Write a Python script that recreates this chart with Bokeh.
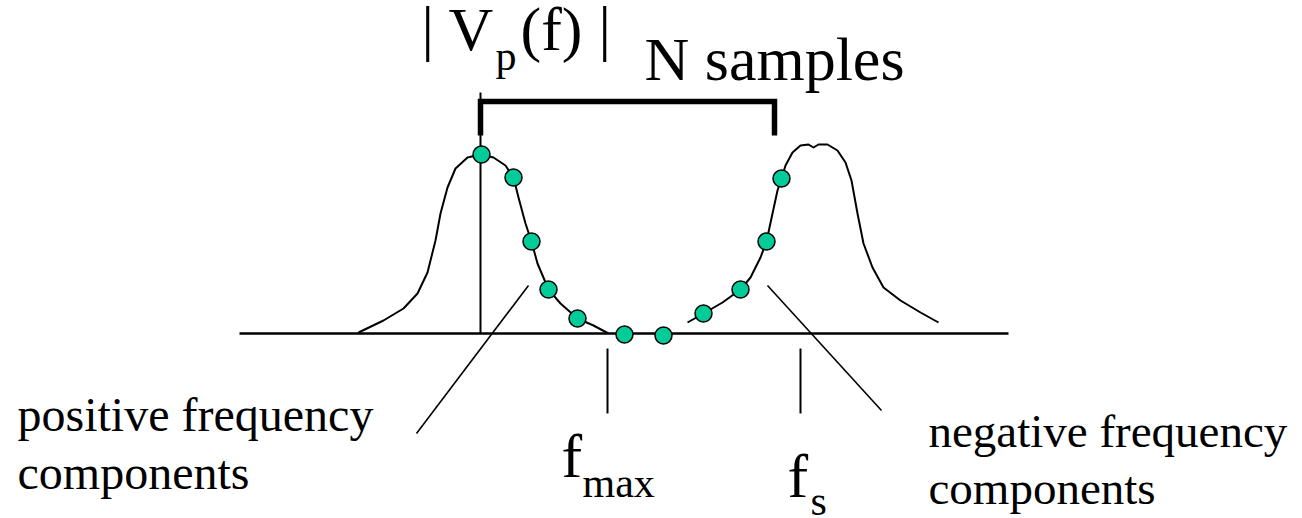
from bokeh.plotting import figure
from bokeh.models import Range1d
from bokeh.core.properties import value
from bokeh.embed import file_html
from bokeh.resources import INLINE

# ---- data (diagram coordinates, pixel-like units, y grows downward) ----
left_curve_x = [358, 383, 403, 417, 427, 435, 440, 447, 455, 467, 480, 493, 505, 513, 518, 525, 531, 537, 548, 560, 577, 593, 608]
left_curve_y = [332, 320, 308, 293, 272, 240, 213, 187, 168, 157, 154, 157, 165, 177, 197, 223, 241, 263, 289, 303, 318, 325, 333]

right_curve_x = [687, 703, 722, 740, 750, 760, 766, 772, 777, 781, 785, 792, 800, 808, 813, 818, 827, 837, 845, 851, 857, 863, 872, 883, 900, 920, 938]
right_curve_y = [322, 313, 302, 289, 277, 257, 241, 213, 190, 178, 165, 152, 145, 144, 147, 144, 144, 150, 162, 180, 213, 243, 267, 287, 300, 312, 322]

sample_x = [481, 513, 531, 548, 577, 624, 663, 703, 740, 766, 781]
sample_y = [154, 177, 241, 289, 318, 334, 335, 313, 289, 241, 178]

axis_x = [239, 1008]
axis_y = [333, 333]

dc_line_x = [480, 480]
dc_line_y = [92, 333]

bracket_x = [480, 480, 774, 774]
bracket_y = [135, 101, 101, 135]

tick_x = [[607, 607], [800, 800]]
tick_y = [[348, 413], [348, 413]]

leader_x = [[528, 416], [767, 881]]
leader_y = [[285, 433], [285, 410]]

# labels: big serif texts (y = anchor used by the text glyph)
big_text = ["|", "V", "(f)", "|", "N samples", "f", "f"]
big_x = [421, 448, 520, 598, 644, 561, 787]
big_y = [27, 28, 28, 27, 58, 455, 475]

sub_text = ["p", "max", "s"]
sub_x = [495, 582, 810]
sub_y = [55, 482, 500]

left_caption = ["positive frequency", "components"]
left_cap_x = [17, 17]
left_cap_y = [414, 472]

right_caption = ["negative frequency", "components"]
right_cap_x = [928, 928]
right_cap_y = [430, 487]

FONT = value("Liberation Serif")

p = figure(width=1300, height=516, output_backend="svg", toolbar_location=None,
           x_range=Range1d(0, 1300), y_range=Range1d(516, 0),
           min_border=0, min_border_left=0, min_border_right=0,
           min_border_top=0, min_border_bottom=0)
p.axis.visible = False
p.grid.visible = False
p.outline_line_color = None
p.background_fill_color = "white"
p.border_fill_color = "white"

# frequency axis
p.line(axis_x, axis_y, line_color="black", line_width=2.5)
# DC line
p.line(dc_line_x, dc_line_y, line_color="black", line_width=2)
# bracket
p.line(bracket_x, bracket_y, line_color="black", line_width=5.5, line_join="miter")
# ticks and leaders
p.multi_line(tick_x, tick_y, line_color="black", line_width=2)
p.multi_line(leader_x, leader_y, line_color="black", line_width=1.6)
# spectrum curves
p.line(left_curve_x, left_curve_y, line_color="black", line_width=2, line_join="round")
p.line(right_curve_x, right_curve_y, line_color="black", line_width=2, line_join="round")
# samples
p.scatter(sample_x, sample_y, size=17, fill_color="#00CC99", line_color="black", line_width=1.5)

# texts
p.text(big_x, big_y, text=big_text, text_font=FONT, text_font_size=value("62px"),
       text_baseline="alphabetic", text_align="left", text_color="black")
p.text(sub_x, sub_y, text=sub_text, text_font=FONT, text_font_size=value("42px"),
       text_baseline="alphabetic", text_align="left", text_color="black")
p.text(left_cap_x, left_cap_y, text=left_caption, text_font=FONT, text_font_size=value("48px"),
       text_baseline="alphabetic", text_align="left", text_color="black")
p.text(right_cap_x, right_cap_y, text=right_caption, text_font=FONT, text_font_size=value("47px"),
       text_baseline="alphabetic", text_align="left", text_color="black")

open("out.html", "w").write(file_html(p, INLINE))
